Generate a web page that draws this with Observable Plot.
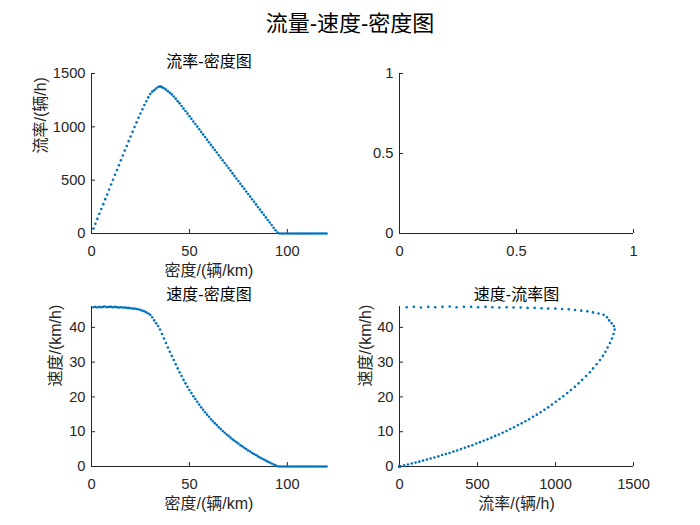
<!DOCTYPE html>
<html><head><meta charset="utf-8">
<script src="https://cdn.jsdelivr.net/npm/d3@7"></script>
<script src="https://cdn.jsdelivr.net/npm/@observablehq/plot@0.6"></script>
<style>
body{margin:0;background:#fff;}
#root{position:relative;width:700px;height:525px;background:#fff;overflow:hidden;}
#title{position:absolute;left:0;top:9px;width:700px;text-align:center;font-size:22px;line-height:30px;color:#000;font-family:"Liberation Sans","Noto Sans CJK SC",sans-serif;}
.panel{position:absolute;}
</style></head><body>
<div id="root"><div id="title">流量-速度-密度图</div></div>
<script>
// density (veh/km)
const density = [1,2,3,4,5,6,7,8,9,10,
11,12,13,14,15,16,17,18,19,20,
21,22,23,24,25,26,27,28,29,30,
31,32,33,34,35,36,37,38,39,40,
41,42,43,44,45,46,47,48,49,50,
51,52,53,54,55,56,57,58,59,60,
61,62,63,64,65,66,67,68,69,70,
71,72,73,74,75,76,77,78,79,80,
81,82,83,84,85,86,87,88,89,90,
91,92,93,94,95,96,97,98,99,100,
101,102,103,104,105,106,107,108,109,110,
111,112,113,114,115,116,117,118,119,120];
// flow (veh/h)
const flow = [46,92,137,184,229,275,322,366,413,459,
504,551,595,640,687,731,777,821,866,910,
953,999,1042,1085,1125,1165,1204,1240,1276,1308,
1330,1344,1360,1374,1379,1372,1362,1349,1334,1320,
1304,1285,1264,1241,1220,1196,1171,1148,1124,1099,
1075,1050,1026,1002,977,953,929,905,880,856,
831,807,783,759,734,710,686,661,637,613,
589,564,540,516,492,467,443,419,394,370,
346,321,297,273,249,224,200,176,151,127,
103,79,54,30,8,0,0,0,0,0,
0,0,0,0,0,0,0,0,0,0,
0,0,0,0,0,0,0,0,0,0];
// speed (km/h)
const speed = [45.8,45.9,45.7,45.9,45.8,45.9,46.0,45.8,45.9,45.9,
45.8,45.9,45.8,45.7,45.8,45.7,45.7,45.6,45.6,45.5,
45.4,45.4,45.3,45.2,45.0,44.8,44.6,44.3,44.0,43.6,
42.9,42.0,41.2,40.4,39.4,38.1,36.8,35.5,34.2,33.0,
31.8,30.6,29.4,28.2,27.1,26.0,24.9,23.9,22.9,22.0,
21.1,20.2,19.4,18.6,17.8,17.0,16.3,15.6,14.9,14.3,
13.6,13.0,12.4,11.9,11.3,10.8,10.2,9.7,9.2,8.8,
8.3,7.8,7.4,7.0,6.6,6.1,5.8,5.4,5.0,4.6,
4.3,3.9,3.6,3.3,2.9,2.6,2.3,2.0,1.7,1.4,
1.13,0.86,0.58,0.32,0.08,0,0,0,0,0,
0,0,0,0,0,0,0,0,0,0,
0,0,0,0,0,0,0,0,0,0];

const densityTicks = [0,50,100];
const flowTicks = [0,500,1000,1500];
const speedTicks = [0,10,20,30,40];
const emptyTicks = [0,0.5,1];

const titles = ["流率-密度图", "", "速度-密度图", "速度-流率图"];
const xLabels = ["密度/(辆/km)", "", "密度/(辆/km)", "流率/(辆/h)"];
const yLabels = ["流率/(辆/h)", "", "速度/(km/h)", "速度/(km/h)"];

const rows = density.map((d, i) => ({density: d, flow: flow[i], speed: speed[i]}));

const AX = "#262626";
const BLUE = "#0072BD";
const FONT = '"Liberation Sans","Noto Sans CJK SC",sans-serif';

function panel(cfg) {
  const marks = [
    Plot.ruleX([cfg.xDomain[0]], {stroke: AX, strokeWidth: 1}),
    Plot.ruleY([cfg.yDomain[0]], {stroke: AX, strokeWidth: 1}),
    Plot.axisX({ticks: cfg.xTicks, tickSize: 4, dy: -4, tickFormat: () => "", label: null, stroke: AX}),
    Plot.axisY({ticks: cfg.yTicks, tickSize: 4, dx: 4, tickFormat: () => "", label: null, stroke: AX}),
    Plot.axisX({ticks: cfg.xTicks, tickSize: 0, tickPadding: 12, tickFormat: d => String(d), label: null, fill: AX, fontSize: 14.7}),
    Plot.axisY({ticks: cfg.yTicks, tickSize: 0, tickPadding: 6, tickFormat: d => String(d), label: null, fill: AX, fontSize: 14.7})
  ];
  if (cfg.xKey) marks.push(Plot.dot(rows, {x: cfg.xKey, y: cfg.yKey, r: 1.3, fill: BLUE, stroke: "none"}));
  if (cfg.title) marks.push(Plot.text([cfg.title], {frameAnchor: "top", dy: -12, fontSize: 16, lineAnchor: "middle", fill: "#000"}));
  if (cfg.xLabel) marks.push(Plot.text([cfg.xLabel], {frameAnchor: "bottom", dy: 37, fontSize: 16, lineAnchor: "middle", fill: AX}));
  if (cfg.yLabel) marks.push(Plot.text([cfg.yLabel], {frameAnchor: "left", dx: cfg.yDx, rotate: -90, fontSize: 16, lineAnchor: "middle", fill: AX}));
  const svg = Plot.plot({
    width: cfg.w, height: cfg.h,
    marginLeft: cfg.ml, marginRight: cfg.mr, marginTop: cfg.mt, marginBottom: cfg.mb,
    x: {domain: cfg.xDomain},
    y: {domain: cfg.yDomain},
    style: {fontFamily: FONT, background: "transparent", overflow: "visible"},
    marks
  });
  svg.classList.add("panel");
  svg.style.left = cfg.left + "px";
  svg.style.top = cfg.top + "px";
  document.getElementById("root").appendChild(svg);
}

// top-left: flow vs density (frame x 91..326, y 73..233)
panel({left: 0, top: 35, w: 350, h: 245, ml: 91, mr: 24, mt: 38, mb: 47,
  xDomain: [0,120], yDomain: [0,1500], xTicks: densityTicks, yTicks: flowTicks,
  xKey: "density", yKey: "flow", title: titles[0], xLabel: xLabels[0], yLabel: yLabels[0], yDx: -51});
// top-right: empty axes (frame x 399..633, y 73..233)
panel({left: 350, top: 35, w: 350, h: 245, ml: 49, mr: 67, mt: 38, mb: 47,
  xDomain: [0,1], yDomain: [0,1], xTicks: emptyTicks, yTicks: emptyTicks});
// bottom-left: speed vs density (frame x 91..326, y 306..466)
panel({left: 0, top: 280, w: 350, h: 245, ml: 91, mr: 24, mt: 26, mb: 59,
  xDomain: [0,120], yDomain: [0,46], xTicks: densityTicks, yTicks: speedTicks,
  xKey: "density", yKey: "speed", title: titles[2], xLabel: xLabels[2], yLabel: yLabels[2], yDx: -36});
// bottom-right: speed vs flow (frame x 399..633, y 306..466)
panel({left: 350, top: 280, w: 350, h: 245, ml: 49, mr: 67, mt: 26, mb: 59,
  xDomain: [0,1500], yDomain: [0,46], xTicks: flowTicks, yTicks: speedTicks,
  xKey: "flow", yKey: "speed", title: titles[3], xLabel: xLabels[3], yLabel: yLabels[3], yDx: -34});
</script>
</body></html>
